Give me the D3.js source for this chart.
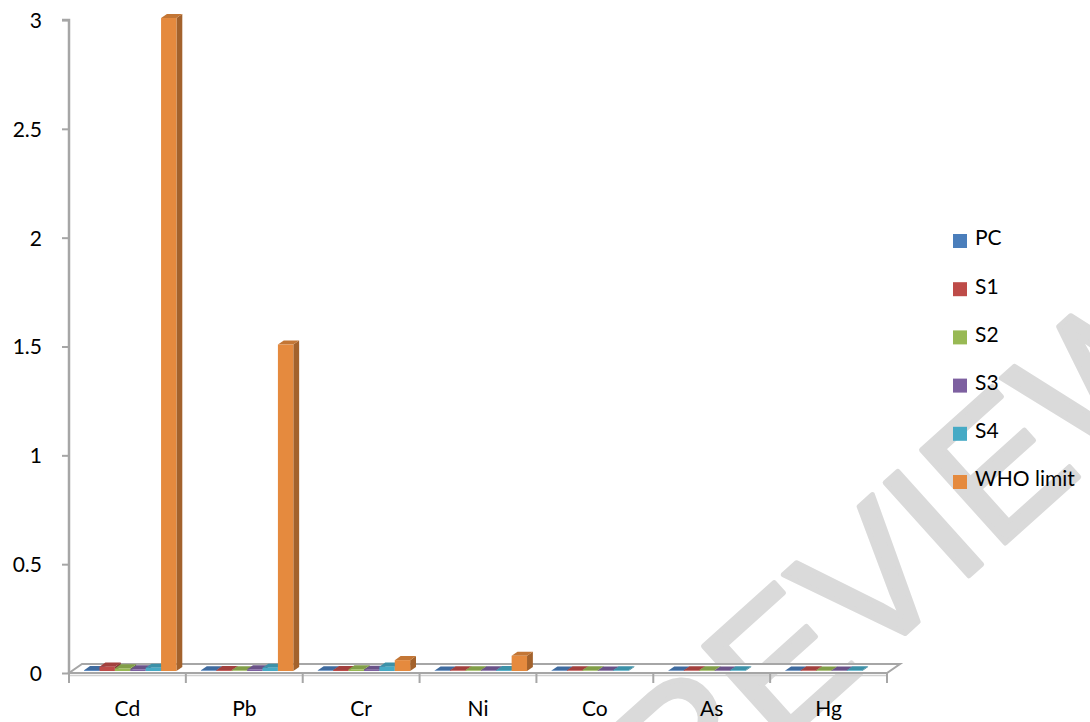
<!DOCTYPE html>
<html>
<head>
<meta charset="utf-8">
<script src="https://cdn.jsdelivr.net/npm/d3@7"></script>
<style>
  html, body { margin: 0; padding: 0; background: #fff; }
  svg { display: block; }
  text { font-family: Lato, "Open Sans", sans-serif; }
</style>
</head>
<body>
<svg id="chart" width="1090" height="722"></svg>
<script>
// Metal concentrations per sample, with the WHO limit for each element
const categories = ["Cd", "Pb", "Cr", "Ni", "Co", "As", "Hg"];
const seriesNames = ["PC", "S1", "S2", "S3", "S4", "WHO limit"];
const PC    = [0.004, 0.003, 0.003, 0.002, 0.002, 0.002, 0.002];
const S1    = [0.020, 0.004, 0.005, 0.003, 0.003, 0.003, 0.003];
const S2    = [0.012, 0.003, 0.008, 0.003, 0.003, 0.003, 0.002];
const S3    = [0.008, 0.008, 0.006, 0.003, 0.002, 0.002, 0.002];
const S4    = [0.015, 0.015, 0.020, 0.004, 0.003, 0.003, 0.003];
const WHO   = [3, 1.5, 0.05, 0.07, 0, 0, 0];
const yTicks = [0, 0.5, 1, 1.5, 2, 2.5, 3];
const colors = ["#4A7EBB", "#BE4B48", "#98B954", "#7D60A0", "#46AAC5", "#E58A3E"];

const seriesValues = [PC, S1, S2, S3, S4, WHO];

const svg = d3.select("#chart");

// Front plane of the plot box and the floor's depth vector
const plotLeft = 69, plotRight = 887, plotTop = 20, plotBottom = 673;
const depth = { dx: 13, dy: -9 };
const barFront = 0.22, barBack = 0.67;

const x = d3.scaleBand().domain(categories).range([plotLeft, plotRight]).paddingInner(0.21).paddingOuter(0.105);
const xs = d3.scaleBand().domain(seriesNames).range([0, x.bandwidth()]);
const y = d3.scaleLinear().domain([0, 3]).range([plotBottom, plotTop]);

const grey = "#A6A6A6";

// Watermark in the background
svg.append("text")
  .attr("transform", "translate(868,602) rotate(-42)")
  .attr("text-anchor", "middle")
  .attr("dominant-baseline", "middle")
  .style("font-family", "'Liberation Sans', sans-serif")
  .style("font-size", "182px")
  .attr("fill", "#DADADA")
  .attr("stroke", "#DADADA")
  .attr("stroke-width", 5)
  .attr("stroke-linejoin", "round")
  .text("PREVIEW");

// Floor: parallelogram at value 0 with a thin front lip
const floorPts = [
  [plotLeft, plotBottom], [plotRight, plotBottom],
  [plotRight + depth.dx, plotBottom + depth.dy], [plotLeft + depth.dx, plotBottom + depth.dy]
];
svg.append("polygon")
  .attr("points", floorPts.map(p => p.join(",")).join(" "))
  .attr("fill", "#fff")
  .attr("stroke", grey)
  .attr("stroke-width", 2);
svg.append("line")
  .attr("x1", plotLeft).attr("x2", plotRight)
  .attr("y1", plotBottom + 2.5).attr("y2", plotBottom + 2.5)
  .attr("stroke", "#D0D0D0").attr("stroke-width", 1.5);

// Category tick marks under the floor's front edge
svg.append("g").selectAll("line").data(d3.range(categories.length + 1)).join("line")
  .attr("x1", i => plotLeft + x.step() * i)
  .attr("x2", i => plotLeft + x.step() * i)
  .attr("y1", plotBottom).attr("y2", plotBottom + 10)
  .attr("stroke", grey).attr("stroke-width", 2);

// Category labels
svg.append("g").selectAll("text").data(categories).join("text")
  .attr("x", d => x(d) + x.bandwidth() / 2)
  .attr("y", 711)
  .attr("text-anchor", "middle")
  .attr("dominant-baseline", "middle")
  .style("font-size", "21px")
  .attr("fill", "#000")
  .text(d => d);

// Value axis
const yAxis = d3.axisLeft(y).tickValues(yTicks).tickFormat(d3.format("")).tickSize(7).tickPadding(20);
const ya = svg.append("g").attr("transform", `translate(${plotLeft},0)`).call(yAxis);
ya.select(".domain").attr("stroke", grey).attr("stroke-width", 2.5).attr("d", `M-7,${plotTop}H0V${plotBottom}`);
ya.selectAll(".tick line").attr("stroke", grey).attr("stroke-width", 2);
ya.selectAll(".tick text")
  .attr("fill", "#000")
  .style("font-size", "21px")
  .style("font-family", "Lato, sans-serif")
  .attr("dy", "0.35em");

// 3D columns: front, top and right side faces
const bars = [];
categories.forEach((c, i) => {
  seriesNames.forEach((s, j) => {
    const v = seriesValues[j][i];
    if (v > 0) bars.push({ c, s, j, v });
  });
});

const g = svg.append("g");
const ox = barFront * depth.dx, oy = barFront * depth.dy;
const bx = (barBack - barFront) * depth.dx, by = (barBack - barFront) * depth.dy;
const pts = a => a.map(p => p.join(",")).join(" ");

bars.forEach(b => {
  const x0 = x(b.c) + xs(b.s) + ox;
  const x1 = x0 + xs.bandwidth();
  const y0 = y(0) + oy;
  const y1 = y(b.v) + oy;
  const base = d3.color(colors[b.j]);
  // side face
  g.append("polygon")
    .attr("points", pts([[x1, y1], [x1 + bx, y1 + by], [x1 + bx, y0 + by], [x1, y0]]))
    .attr("fill", base.darker(0.95));
  // top face
  g.append("polygon")
    .attr("points", pts([[x0, y1], [x1, y1], [x1 + bx, y1 + by], [x0 + bx, y1 + by]]))
    .attr("fill", base.darker(0.45));
  // front face
  g.append("rect")
    .attr("x", x0).attr("y", y1)
    .attr("width", x1 - x0).attr("height", y0 - y1)
    .attr("fill", base);
});

// Legend
const legend = svg.append("g").selectAll("g").data(seriesNames).join("g")
  .attr("transform", (d, i) => `translate(953,${240 + i * 48.2})`);
legend.append("rect")
  .attr("x", 0).attr("y", -6).attr("width", 14).attr("height", 14)
  .attr("fill", (d, i) => colors[i]);
legend.append("text")
  .attr("x", 22).attr("y", 0)
  .attr("dominant-baseline", "middle")
  .style("font-size", "21px")
  .attr("fill", "#000")
  .text(d => d);
</script>
</body>
</html>
